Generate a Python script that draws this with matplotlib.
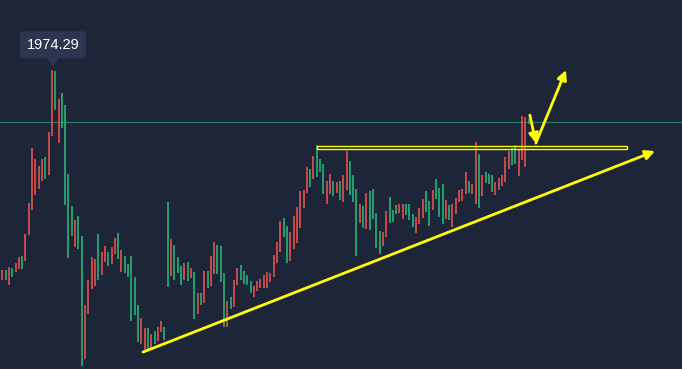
import matplotlib
matplotlib.use('Agg')
import matplotlib.pyplot as plt
from matplotlib.patches import Rectangle, Polygon

# bar data (high / low per bar, r = red bar, g = green bar)
highs = [1374, 1374, 1383, 1380, 1395, 1413, 1416, 1482, 1575, 1740,
         1707, 1686, 1707, 1713, 1788, 1974.29, 1971, 1887, 1905, 1869,
         1662, 1566, 1524, 1536, 1476, 1269, 1344, 1413, 1407, 1482,
         1428, 1446, 1428, 1443, 1470, 1485, 1434, 1416, 1392, 1416,
         1353, 1269, 1230, 1200, 1200, 1182, 1191, 1203, 1221, 1203,
         1578, 1467, 1449, 1413, 1386, 1395, 1398, 1380, 1368, 1305,
         1305, 1371, 1371, 1416, 1458, 1449, 1446, 1365, 1281, 1293,
         1344, 1380, 1389, 1371, 1359, 1341, 1326, 1341, 1347, 1359,
         1368, 1365, 1419, 1458, 1521, 1530, 1506, 1488, 1536, 1563,
         1611, 1614, 1683, 1677, 1716, 1749, 1707, 1692, 1641, 1662,
         1641, 1638, 1641, 1659, 1731, 1701, 1659, 1617, 1572, 1566,
         1605, 1611, 1617, 1545, 1491, 1488, 1551, 1593, 1554, 1569,
         1572, 1572, 1572, 1572, 1542, 1533, 1560, 1587, 1611, 1581,
         1614, 1647, 1620, 1632, 1584, 1569, 1572, 1590, 1614, 1617,
         1668, 1641, 1632, 1758, 1722, 1659, 1668, 1662, 1659, 1638,
         1650, 1659, 1713, 1731, 1740, 1749, 1734, 1836, 1833, 1827]
lows = [1344, 1344, 1329, 1353, 1368, 1377, 1377, 1401, 1479, 1554,
        1599, 1617, 1641, 1647, 1659, 1776, 1854, 1755, 1800, 1569,
        1410, 1476, 1443, 1437, 1086, 1107, 1242, 1317, 1326, 1344,
        1359, 1398, 1386, 1392, 1422, 1407, 1368, 1365, 1353, 1221,
        1239, 1158, 1152, 1134, 1134, 1137, 1152, 1161, 1188, 1164,
        1323, 1356, 1344, 1365, 1329, 1344, 1341, 1350, 1227, 1242,
        1269, 1275, 1320, 1326, 1362, 1362, 1338, 1203, 1203, 1257,
        1263, 1329, 1344, 1332, 1329, 1305, 1293, 1311, 1320, 1320,
        1320, 1338, 1353, 1395, 1428, 1473, 1395, 1401, 1437, 1455,
        1500, 1560, 1605, 1623, 1647, 1653, 1668, 1602, 1572, 1602,
        1596, 1605, 1584, 1578, 1614, 1599, 1578, 1416, 1515, 1500,
        1497, 1494, 1527, 1440, 1422, 1446, 1473, 1515, 1518, 1542,
        1545, 1527, 1539, 1524, 1503, 1485, 1512, 1530, 1548, 1506,
        1554, 1587, 1533, 1512, 1527, 1524, 1503, 1542, 1578, 1581,
        1602, 1605, 1602, 1572, 1560, 1596, 1635, 1632, 1608, 1599,
        1614, 1626, 1638, 1677, 1689, 1692, 1656, 1704, 1683, 1812]
colours = ("rgrgrrgrrr" "rrrgrrgrgg" "ggrggrrrrg" "rrgrrgrggg" "ggrrgrgrrg"
           "grgggrgrgr" "grgrrgggrg" "rrggggrrrr" "rrrrrggrrr" "rrrgrgggrr"
           "grgrrgggrg" "rggggrrggg" "rrgggrrrgg" "rgggrgrrrr" "rgrrgrgggr"
           "rrrrggrrrg")

peak_label = "1974.29"
ref_level = 1817                      # thin green horizontal line
box_x = [95.1, 188.7]                 # yellow resistance box
box_y = [1738, 1745]
trend_x = [42.5, 197.2]               # rising support line
trend_y = [1128, 1731]
v_x = [159.4, 161.2, 170.3]           # pullback then breakout arrows
v_y = [1839, 1755, 1974]

bg = '#1d2538'
red = '#ef5350'
green = '#26b97b'
yellow = '#ffff00'

fig = plt.figure(figsize=(6.82, 3.69), dpi=100, facecolor=bg)
ax = fig.add_axes([0, 0, 1, 1], facecolor=bg)

idx = list(range(len(highs)))
cols = [red if c == 'r' else green for c in colours]
ax.vlines(idx, lows, highs, colors=cols, linewidth=1.15, zorder=2)

ax.axhline(ref_level, color='#2b7a5e', linewidth=0.9, zorder=1)

ax.add_patch(Rectangle((box_x[0], box_y[0]), box_x[1] - box_x[0], box_y[1] - box_y[0],
                       fill=False, edgecolor=yellow, linewidth=1.0, zorder=4))

arrow = dict(arrowstyle='-|>', color=yellow, lw=2.0, mutation_scale=14,
             shrinkA=0, shrinkB=0)
ax.annotate('', xy=(trend_x[1], trend_y[1]), xytext=(trend_x[0], trend_y[0]),
            arrowprops=arrow, zorder=5)
ax.annotate('', xy=(v_x[1], v_y[1]), xytext=(v_x[0], v_y[0]),
            arrowprops=arrow, zorder=5)
ax.annotate('', xy=(v_x[2], v_y[2]), xytext=(v_x[1], v_y[1]),
            arrowprops=arrow, zorder=5)

# price tooltip over the top bar
top = highs.index(max(highs))
ax.text(top + 0.3, 2050, peak_label, ha='center', va='center', color='white',
        fontsize=10.5, family='Liberation Sans', zorder=6,
        bbox=dict(boxstyle='round,pad=0.45,rounding_size=0.2', fc='#2c3650', ec='none'))
ax.add_patch(Polygon([[top - 2.1, 2017], [top + 2.7, 2017], [top + 0.3, 1984]],
                     closed=True, fc='#2c3650', ec='none', zorder=6))

ax.set_xlim(-0.695, 205.35)
ax.set_ylim(1077.29, 2184.29)
ax.axis('off')

plt.savefig('out.png', dpi=100, facecolor=bg)
